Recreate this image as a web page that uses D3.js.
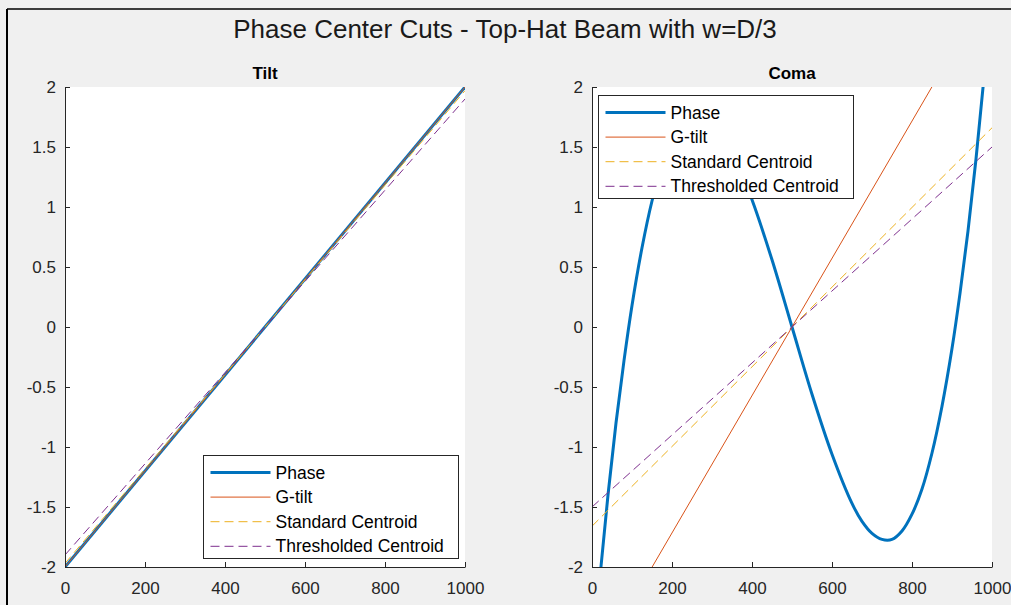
<!DOCTYPE html>
<html>
<head>
<meta charset="utf-8">
<script src="https://cdn.jsdelivr.net/npm/d3@7"></script>
<style>
  body { margin: 0; background: #f0f0f0; }
  svg { display: block; font-family: "Liberation Sans", Arial, sans-serif; }
  .tick text { fill: #262626; }
</style>
</head>
<body>
<svg id="chart" width="1011" height="605"></svg>
<script>
'use strict';

// values
var xTicks = [0, 200, 400, 600, 800, 1000];
var yTicks = [-2, -1.5, -1, -0.5, 0, 0.5, 1, 1.5, 2];
var seriesNames = ['Phase', 'G-tilt', 'Standard Centroid', 'Thresholded Centroid'];
var seriesColors = ['#0072BD', '#D95319', '#EDB120', '#7E2F8E'];

// tilt cut: straight lines, endpoints at x = 0 and x = 1000
var lineX = [0, 1000];
var tiltPhase = [-2, 2];
var tiltGTilt = [-2, 2];
var tiltStdCentroid = [-1.97, 1.97];
var tiltThrCentroid = [-1.9, 1.9];

// coma cut
var comaGTilt = [-2.86, 2.86];
var comaStdCentroid = [-1.66, 1.66];
var comaThrCentroid = [-1.5, 1.5];
var comaPhaseX = [0, 20, 40, 60, 80, 100, 125, 150, 175, 200, 225, 250, 275, 300, 325, 350, 400, 450, 500,
  550, 600, 650, 675, 700, 725, 750, 775, 800, 825, 850, 875, 900, 920, 940, 960, 980, 1000];
var comaPhase = [-2.83, -2.08, -1.4, -0.8, -0.28, 0.18, 0.66, 1.05, 1.35, 1.56, 1.7, 1.77, 1.77, 1.72, 1.62, 1.47, 1.06, 0.56, 0,
  -0.56, -1.06, -1.47, -1.62, -1.72, -1.77, -1.77, -1.7, -1.56, -1.35, -1.05, -0.66, -0.18, 0.28, 0.8, 1.4, 2.08, 2.83];

var svg = d3.select('#chart');

// figure frame (screenshot edge)
svg.append('line').attr('x1', 7).attr('y1', 9).attr('x2', 1011).attr('y2', 9)
  .style('stroke', '#000').style('stroke-width', 1.5);
svg.append('line').attr('x1', 7).attr('y1', 9).attr('x2', 7).attr('y2', 605)
  .style('stroke', '#000').style('stroke-width', 2);

svg.append('text')
  .attr('x', 505).attr('y', 38)
  .attr('text-anchor', 'middle')
  .style('font-size', '26px')
  .style('fill', '#1a1a1a')
  .text('Phase Center Cuts - Top-Hat Beam with w=D/3');

var plotTop = 87, plotBottom = 567;

function drawPanel(id, left, title, series, legendPos) {
  var x = d3.scaleLinear().domain([0, 1000]).range([left, left + 400]);
  var y = d3.scaleLinear().domain([-2, 2]).range([plotBottom, plotTop]);

  var g = svg.append('g');

  g.append('rect')
    .attr('x', left).attr('y', plotTop)
    .attr('width', 400).attr('height', plotBottom - plotTop)
    .style('fill', '#fff');

  g.append('clipPath').attr('id', 'clip-' + id)
    .append('rect')
    .attr('x', left).attr('y', plotTop)
    .attr('width', 400).attr('height', plotBottom - plotTop);

  g.append('text')
    .attr('x', left + 200).attr('y', 79)
    .attr('text-anchor', 'middle')
    .style('font-size', '17px')
    .style('font-weight', 'bold')
    .style('fill', '#000')
    .text(title);

  var plot = g.append('g').attr('clip-path', 'url(#clip-' + id + ')');

  var line = d3.line()
    .x(function(d) { return x(d[0]); })
    .y(function(d) { return y(d[1]); });

  series.forEach(function(s, i) {
    line.curve(s.smooth ? d3.curveCatmullRom.alpha(0.5) : d3.curveLinear);
    plot.append('path')
      .attr('d', line(d3.zip(s.x, s.y)))
      .style('fill', 'none')
      .style('stroke', seriesColors[i])
      .style('stroke-width', i === 0 ? 3 : 1)
      .style('stroke-dasharray', i >= 2 ? '9,5' : null);
  });

  var fmt = function(d) { return String(d); };
  var xAxis = g.append('g')
    .attr('transform', 'translate(0,' + plotBottom + ')')
    .call(d3.axisBottom(x).tickValues(xTicks).tickFormat(fmt).tickSizeInner(-5).tickSizeOuter(0).tickPadding(15));
  var yAxis = g.append('g')
    .attr('transform', 'translate(' + left + ',0)')
    .call(d3.axisLeft(y).tickValues(yTicks).tickFormat(fmt).tickSizeInner(-5).tickSizeOuter(0).tickPadding(9));

  [xAxis, yAxis].forEach(function(a) {
    a.selectAll('path, line').style('stroke', '#262626');
    a.selectAll('text').style('font-size', '17px').style('font-family', '"Liberation Sans", Arial, sans-serif');
  });

  // legend
  var lg = g.append('g').attr('transform', 'translate(' + legendPos[0] + ',' + legendPos[1] + ')');
  lg.append('rect')
    .attr('width', 255).attr('height', 103)
    .style('fill', '#fff')
    .style('stroke', '#262626')
    .style('stroke-width', 1);
  seriesNames.forEach(function(name, i) {
    var ry = 17 + i * 24.6;
    lg.append('line')
      .attr('x1', 7).attr('x2', 67).attr('y1', ry).attr('y2', ry)
      .style('stroke', seriesColors[i])
      .style('stroke-width', i === 0 ? 3 : 1)
      .style('stroke-dasharray', i >= 2 ? '9,5' : null);
    lg.append('text')
      .attr('x', 72).attr('y', ry + 6)
      .style('font-size', '17.5px')
      .style('fill', '#000')
      .text(name);
  });
}

drawPanel('tilt', 65, 'Tilt', [
  { x: lineX, y: tiltPhase },
  { x: lineX, y: tiltGTilt },
  { x: lineX, y: tiltStdCentroid },
  { x: lineX, y: tiltThrCentroid }
], [203.5, 455.5]);

drawPanel('coma', 592, 'Coma', [
  { x: comaPhaseX, y: comaPhase, smooth: true },
  { x: lineX, y: comaGTilt },
  { x: lineX, y: comaStdCentroid },
  { x: lineX, y: comaThrCentroid }
], [598.5, 95.5]);
</script>
</body>
</html>
